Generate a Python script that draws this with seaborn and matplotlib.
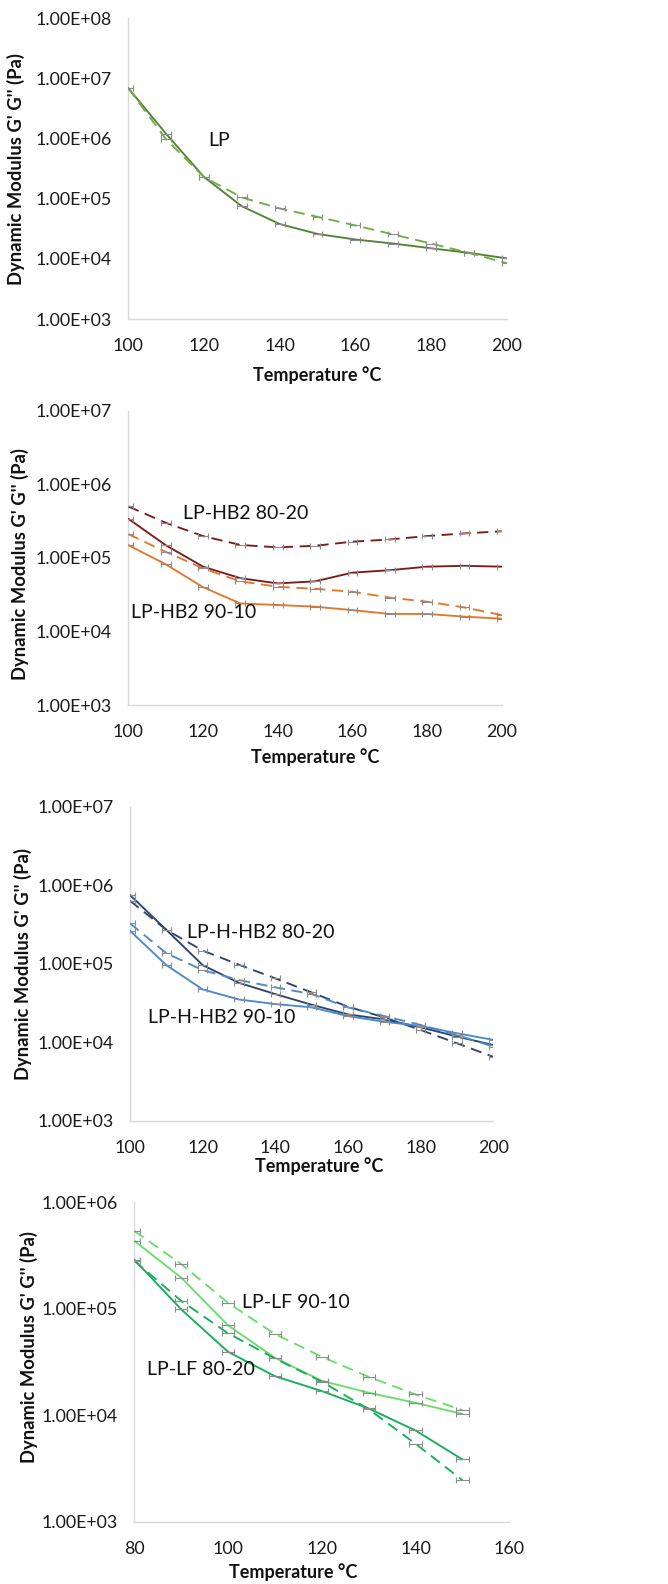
import numpy as np
import pandas as pd
import matplotlib
matplotlib.use("Agg")
import matplotlib.pyplot as plt
import seaborn as sns

# ---------------- data ----------------
temp_a = [100, 110, 120, 130, 140, 150, 160, 170, 180, 190, 200]
temp_b = [80, 90, 100, 110, 120, 130, 140, 150]

lp_g1 = [6.9e6, 1.2e6, 2.3e5, 7.5e4, 3.8e4, 2.6e4, 2.1e4, 1.8e4, 1.5e4, 1.26e4, 1.02e4]
lp_g2 = [6.9e6, 9.7e5, 2.3e5, 1.05e5, 6.9e4, 5.0e4, 3.6e4, 2.55e4, 1.8e4, 1.26e4, 8.5e3]

hb80_g1 = [3.4e5, 1.49e5, 7.6e4, 5.3e4, 4.5e4, 4.8e4, 6.3e4, 6.8e4, 7.6e4, 7.8e4, 7.6e4]
hb80_g2 = [5.0e5, 3.0e5, 1.98e5, 1.5e5, 1.39e5, 1.46e5, 1.66e5, 1.78e5, 1.98e5, 2.15e5, 2.3e5]
hb90_g1 = [1.49e5, 8.2e4, 4.0e4, 2.4e4, 2.29e4, 2.17e4, 1.95e4, 1.73e4, 1.73e4, 1.59e4, 1.49e4]
hb90_g2 = [2.1e5, 1.21e5, 7.2e4, 4.8e4, 4.05e4, 3.8e4, 3.47e4, 2.88e4, 2.54e4, 2.12e4, 1.67e4]

hhb80_g1 = [7.5e5, 2.7e5, 9.6e4, 5.7e4, 4.1e4, 3.0e4, 2.26e4, 1.95e4, 1.55e4, 1.18e4, 9.2e3]
hhb80_g2 = [6.35e5, 2.7e5, 1.47e5, 9.7e4, 6.5e4, 4.3e4, 2.83e4, 2.07e4, 1.43e4, 9.7e3, 6.5e3]
hhb90_g1 = [2.63e5, 9.6e4, 4.7e4, 3.5e4, 3.06e4, 2.78e4, 2.15e4, 1.82e4, 1.61e4, 1.30e4, 1.07e4]
hhb90_g2 = [3.27e5, 1.36e5, 8.3e4, 6.2e4, 5.0e4, 4.1e4, 2.78e4, 2.15e4, 1.66e4, 1.23e4, 8.8e3]

lf90_g1 = [4.36e5, 1.97e5, 7.0e4, 3.47e4, 2.11e4, 1.63e4, 1.31e4, 1.03e4]
lf90_g2 = [5.4e5, 2.64e5, 1.14e5, 5.8e4, 3.55e4, 2.3e4, 1.57e4, 1.12e4]
lf80_g1 = [2.9e5, 9.9e4, 3.95e4, 2.33e4, 1.69e4, 1.16e4, 7.2e3, 3.85e3]
lf80_g2 = [2.83e5, 1.19e5, 5.9e4, 3.42e4, 2.07e4, 1.14e4, 5.4e3, 2.46e3]

yticks_1 = [1e3, 1e4, 1e5, 1e6, 1e7, 1e8]
yticks_2 = [1e3, 1e4, 1e5, 1e6, 1e7]
yticks_4 = [1e3, 1e4, 1e5, 1e6]
xticks_a = [100, 120, 140, 160, 180, 200]
xticks_b = [80, 100, 120, 140, 160]

xlabel = "Temperature °C"
ylabel = "Dynamic Modulus G' G'' (Pa)"

# ---------------- style ----------------
sns.set_theme(style="white")
plt.rcParams['font.family'] = ['Lato', 'DejaVu Sans']

fig = plt.figure(figsize=(6.68, 15.84), dpi=100)

panels = [
    dict(rect=[0.1921, 0.7986, 0.5665, 0.1898], temps=temp_a, xlim=(100, 200), xticks=xticks_a,
         ylim=(1e3, 1e8), yticks=yticks_1,
         series=[(lp_g1, '#548235', 'G1'), (lp_g2, '#70AD47', 'G2')],
         texts=[("LP", 0.21, 0.595)], ylab=(-0.273, 0.5), xlab=(0.5, -0.186)),
    dict(rect=[0.1921, 0.5549, 0.5590, 0.1858], temps=temp_a, xlim=(100, 200), xticks=xticks_a,
         ylim=(1e3, 1e7), yticks=yticks_2,
         series=[(hb80_g2, '#7B1C1C', 'G2'), (hb80_g1, '#7B1C1C', 'G1'),
                 (hb90_g2, '#E2782C', 'G2'), (hb90_g1, '#E2782C', 'G1')],
         texts=[("LP-HB2 80-20", 0.147, 0.652), ("LP-HB2 90-10", 0.007, 0.316)],
         ylab=(-0.266, 0.48), xlab=(0.501, -0.177)),
    dict(rect=[0.1946, 0.2925, 0.5439, 0.1982], temps=temp_a, xlim=(100, 200), xticks=xticks_a,
         ylim=(1e3, 1e7), yticks=yticks_2,
         series=[(hhb80_g1, '#2E4468', 'G1'), (hhb80_g2, '#2E4468', 'G2'),
                 (hhb90_g2, '#4A89CE', 'G2'), (hhb90_g1, '#4A89CE', 'G1')],
         texts=[("LP-H-HB2 80-20", 0.157, 0.598), ("LP-H-HB2 90-10", 0.05, 0.33)],
         ylab=(-0.27, 0.5), xlab=(0.52, -0.144)),
    dict(rect=[0.2010, 0.0393, 0.5614, 0.2016], temps=temp_b, xlim=(80, 160), xticks=xticks_b,
         ylim=(1e3, 1e6), yticks=yticks_4,
         series=[(lf90_g2, '#6BDD6B', 'G2'), (lf90_g1, '#6BDD6B', 'G1'),
                 (lf80_g2, '#17AD5B', 'G2'), (lf80_g1, '#17AD5B', 'G1')],
         texts=[("LP-LF 90-10", 0.287, 0.688), ("LP-LF 80-20", 0.034, 0.478)],
         ylab=(-0.257, 0.547), xlab=(0.423, -0.157)),
]

for p in panels:
    ax = fig.add_axes(p['rect'])
    for i, (vals, col, kind) in enumerate(p['series']):
        df = pd.DataFrame({'T': p['temps'], 'G': vals})
        ls = '-' if kind == 'G1' else (0, (6, 3.5))
        sns.lineplot(data=df, x='T', y='G', ax=ax, color=col, linewidth=1.35,
                     linestyle=ls, legend=False, zorder=3)
        ax.errorbar(p['temps'], vals, xerr=1.3, fmt='none', ecolor='#8C8C8C',
                    elinewidth=0.8, capsize=2.2, capthick=0.8, zorder=4)
    ax.set_yscale('log')
    ax.set_xlim(*p['xlim'])
    ax.set_ylim(*p['ylim'])
    ax.set_xticks(p['xticks'])
    ax.set_xticklabels([str(t) for t in p['xticks']])
    ax.set_yticks(p['yticks'])
    ax.set_yticklabels(["%.2E" % v for v in p['yticks']])
    ax.yaxis.set_minor_locator(matplotlib.ticker.NullLocator())
    ax.tick_params(axis='both', length=0, labelsize=12.8, colors='#1A1A1A')
    ax.tick_params(axis='x', pad=14)
    ax.tick_params(axis='y', pad=12)
    for s in ['top', 'right']:
        ax.spines[s].set_visible(False)
    for s in ['left', 'bottom']:
        ax.spines[s].set_color('#D9D9D9')
        ax.spines[s].set_linewidth(1.0)
    ax.grid(False)
    ax.set_xlabel(xlabel, fontsize=13, fontweight='bold', color='#111111')
    ax.set_ylabel(ylabel, fontsize=13.2, fontweight='bold', color='#111111')
    ax.yaxis.set_label_coords(*p['ylab'])
    ax.xaxis.set_label_coords(*p['xlab'])
    ax.xaxis.label.set_va('center')
    for (txt, tx, ty) in p['texts']:
        ax.text(tx, ty, txt, transform=ax.transAxes, fontsize=14,
                ha='left', va='center', color='#111111')

fig.savefig("out.png", dpi=100)
